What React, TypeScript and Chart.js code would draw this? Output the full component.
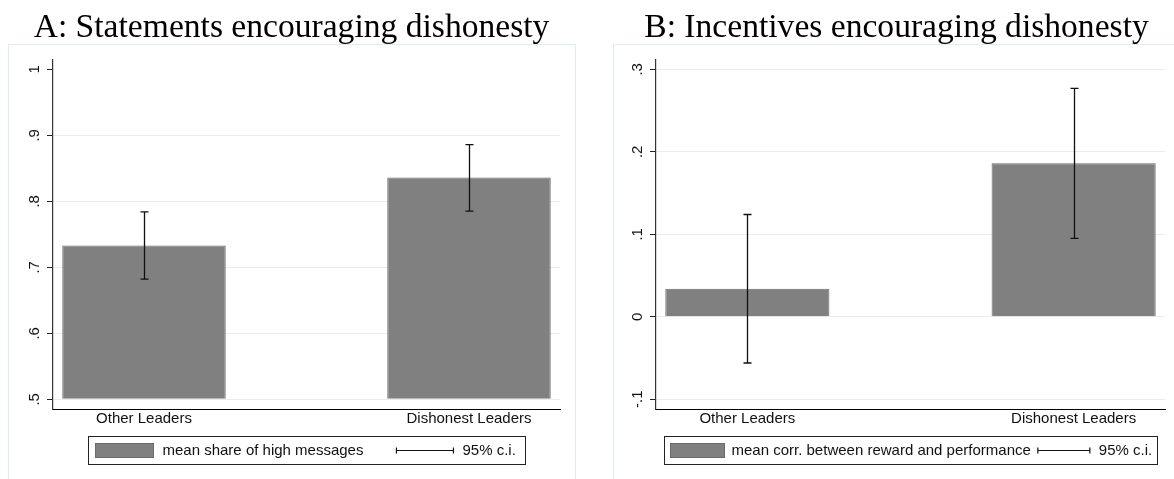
import React, { useEffect, useRef } from "react";
import { Chart, registerables } from "chart.js";

Chart.register(...registerables);

// ---------- data ----------
const categories = ["Other Leaders", "Dishonest Leaders"];
const ciLabel = "95% c.i.";

const titleA = "A: Statements encouraging dishonesty";
const legendA = "mean share of high messages";
const meanA = [0.733, 0.836];
const lowA = [0.682, 0.785];
const highA = [0.784, 0.886];
const ticksA = [0.5, 0.6, 0.7, 0.8, 0.9, 1];
const tickLabelsA = [".5", ".6", ".7", ".8", ".9", "1"];

const titleB = "B: Incentives encouraging dishonesty";
const legendB = "mean corr. between reward and performance";
const meanB = [0.034, 0.186];
const lowB = [-0.056, 0.095];
const highB = [0.124, 0.277];
const ticksB = [-0.1, 0, 0.1, 0.2, 0.3];
const tickLabelsB = ["-.1", "0", ".1", ".2", ".3"];

// ---------- styling ----------
const SANS = "'Liberation Sans', Arial, Helvetica, sans-serif";
const SERIF = "'Liberation Serif', 'Times New Roman', serif";
const BAR_FILL = "#808080";
const BAR_EDGE = "#6a6a6a";
const GRID = "#e6eef0";
const FRAME = "#e2ebed";

type LegendLayout = {
  padL: number; swatch: number; gap1: number; gap2: number;
  ci: number; gap3: number; padR: number;
};

type PanelCfg = {
  title: string;
  legend: string;
  mean: number[];
  low: number[];
  high: number[];
  ticks: number[];
  tickLabels: string[];
  yMin: number;
  yMax: number;
  base: number;
  yAxisWidth: number;
  tickPad: number;
  hideGridAt: number[];
  legendLayout: LegendLayout;
  left: number;
};

const errorBarPlugin = {
  id: "errorBars",
  afterDatasetsDraw(chart: any) {
    const ds = chart.data.datasets[0];
    const xs = chart.scales.x;
    const ys = chart.scales.y;
    const ctx = chart.ctx;
    ctx.save();
    ctx.strokeStyle = "#111";
    ctx.lineWidth = 1.3;
    (ds.ciLow as number[]).forEach((lo, i) => {
      const hi = ds.ciHigh[i];
      const x = Math.round(xs.getPixelForValue(i + 1)) + 0.5;
      const y1 = ys.getPixelForValue(lo);
      const y2 = ys.getPixelForValue(hi);
      ctx.beginPath();
      ctx.moveTo(x, y1);
      ctx.lineTo(x, y2);
      ctx.moveTo(x - 4, y1);
      ctx.lineTo(x + 4, y1);
      ctx.moveTo(x - 4, y2);
      ctx.lineTo(x + 4, y2);
      ctx.stroke();
    });
    ctx.restore();
  },
};

const ciLegendPlugin = {
  id: "ciLegend",
  afterDraw(chart: any) {
    const ds = chart.data.datasets[0];
    const L: LegendLayout = ds.legendLayout;
    const { ctx, chartArea } = chart;
    ctx.save();
    ctx.font = `15px ${SANS}`;
    const t1 = ctx.measureText(ds.label).width;
    const t2 = ctx.measureText(ciLabel).width;
    const w = L.padL + L.swatch + L.gap1 + t1 + L.gap2 + L.ci + L.gap3 + t2 + L.padR;
    const cx = (chartArea.left + chartArea.right) / 2;
    const x0 = Math.round(cx - w / 2) + 0.5;
    const top = Math.round(chartArea.bottom) + 27 + 0.5;
    const h = 28;
    ctx.fillStyle = "#fff";
    ctx.fillRect(x0, top, w, h);
    ctx.strokeStyle = "#222";
    ctx.lineWidth = 1;
    ctx.strokeRect(x0, top, Math.round(w), h);
    const midY = top + h / 2;
    let cur = x0 + L.padL;
    ctx.fillStyle = BAR_FILL;
    ctx.fillRect(cur, midY - 7, L.swatch, 14);
    ctx.strokeStyle = BAR_EDGE;
    ctx.strokeRect(cur, midY - 7, L.swatch, 14);
    cur += L.swatch + L.gap1;
    ctx.fillStyle = "#111";
    ctx.textAlign = "left";
    ctx.textBaseline = "middle";
    ctx.fillText(ds.label, cur, midY + 0.5);
    cur += t1 + L.gap2;
    ctx.strokeStyle = "#111";
    ctx.lineWidth = 1.2;
    ctx.beginPath();
    ctx.moveTo(cur, midY);
    ctx.lineTo(cur + L.ci, midY);
    ctx.moveTo(cur, midY - 3);
    ctx.lineTo(cur, midY + 3);
    ctx.moveTo(cur + L.ci, midY - 3);
    ctx.lineTo(cur + L.ci, midY + 3);
    ctx.stroke();
    cur += L.ci + L.gap3;
    ctx.fillText(ciLabel, cur, midY + 0.5);
    ctx.restore();
  },
};

const panelA: PanelCfg = {
  title: titleA,
  legend: legendA,
  mean: meanA,
  low: lowA,
  high: highA,
  ticks: ticksA,
  tickLabels: tickLabelsA,
  yMin: 0.4853,
  yMax: 1.0141,
  base: 0.5,
  yAxisWidth: 30,
  tickPad: 6,
  hideGridAt: [1],
  legendLayout: { padL: 7, swatch: 58, gap1: 9, gap2: 33, ci: 57, gap3: 9, padR: 10 },
  left: 8,
};

const panelB: PanelCfg = {
  title: titleB,
  legend: legendB,
  mean: meanB,
  low: lowB,
  high: highB,
  ticks: ticksB,
  tickLabels: tickLabelsB,
  yMin: -0.1118,
  yMax: 0.3113,
  base: 0,
  yAxisWidth: 28,
  tickPad: 3,
  hideGridAt: [],
  legendLayout: { padL: 6, swatch: 54, gap1: 7, gap2: 7, ci: 52, gap3: 9, padR: 5 },
  left: 613,
};

const W = 567;
const H = 479;

function Panel({ cfg }: { cfg: PanelCfg }) {
  const ref = useRef<HTMLCanvasElement | null>(null);
  useEffect(() => {
    if (!ref.current) return;
    const chart = new Chart(ref.current, {
      type: "bar",
      data: {
        datasets: [
          {
            label: cfg.legend,
            data: cfg.mean.map((v, i) => ({ x: i + 1, y: v })),
            base: cfg.base,
            backgroundColor: BAR_FILL,
            borderColor: BAR_EDGE,
            borderWidth: 1,
            barPercentage: 0.503,
            categoryPercentage: 1,
            ciLow: cfg.low,
            ciHigh: cfg.high,
            legendLayout: cfg.legendLayout,
          } as any,
        ],
      },
      options: {
        responsive: false,
        animation: false,
        devicePixelRatio: 1,
        layout: { padding: { left: 15, right: 15, top: 0, bottom: 0 } },
        plugins: {
          legend: { display: false },
          tooltip: { enabled: false },
          title: {
            display: true,
            text: cfg.title,
            color: "#000",
            font: { family: SERIF, size: 33.6, weight: "normal", lineHeight: 1.2 },
            padding: { top: 8, bottom: 11.7 },
          },
        },
        scales: {
          x: {
            type: "linear",
            min: 0.72,
            max: 2.28,
            offset: false,
            afterBuildTicks: (axis: any) => {
              axis.ticks = categories.map((_, i) => ({ value: i + 1 }));
            },
            afterFit: (scale: any) => {
              scale.height = 70;
            },
            grid: { display: false, drawTicks: false, offset: false },
            border: { display: true, color: "#000", width: 1 },
            ticks: {
              autoSkip: false,
              minRotation: 0,
              maxRotation: 0,
              padding: 1,
              color: "#111",
              font: { family: SANS, size: 15 },
              callback: (_v: any, i: number) => categories[i],
            },
          },
          y: {
            type: "linear",
            min: cfg.yMin,
            max: cfg.yMax,
            afterBuildTicks: (axis: any) => {
              axis.ticks = cfg.ticks.map((v) => ({ value: v }));
            },
            afterFit: (scale: any) => {
              scale.width = cfg.yAxisWidth;
            },
            grid: {
              color: (c: any) =>
                c.tick && cfg.hideGridAt.some((h) => Math.abs(h - c.tick.value) < 1e-9)
                  ? "rgba(0,0,0,0)"
                  : GRID,
              lineWidth: 1,
              drawTicks: true,
              tickLength: 6,
              tickColor: "#222",
              tickWidth: 1,
            },
            border: { display: true, color: "#333", width: 1.2 },
            ticks: {
              autoSkip: false,
              minRotation: 90,
              maxRotation: 90,
              crossAlign: "center",
              padding: cfg.tickPad,
              color: "#111",
              font: { family: SANS, size: 15 },
              callback: (_v: any, i: number) => cfg.tickLabels[i],
            },
          },
        },
      } as any,
      plugins: [errorBarPlugin, ciLegendPlugin],
    });
    return () => chart.destroy();
  }, [cfg]);

  return (
    <>
      <div
        style={{
          position: "absolute",
          left: cfg.left,
          top: 44,
          width: W + 1,
          height: 460,
          boxSizing: "border-box",
          border: `1px solid ${FRAME}`,
        }}
      />
      <canvas
        ref={ref}
        width={W}
        height={H}
        style={{ position: "absolute", left: cfg.left, top: 0, width: W, height: H }}
      />
    </>
  );
}

export default function App() {
  return (
    <div
      style={{
        position: "fixed",
        left: 0,
        top: 0,
        width: 1174,
        height: 479,
        overflow: "hidden",
        background: "#fff",
      }}
    >
      <Panel cfg={panelA} />
      <Panel cfg={panelB} />
    </div>
  );
}
